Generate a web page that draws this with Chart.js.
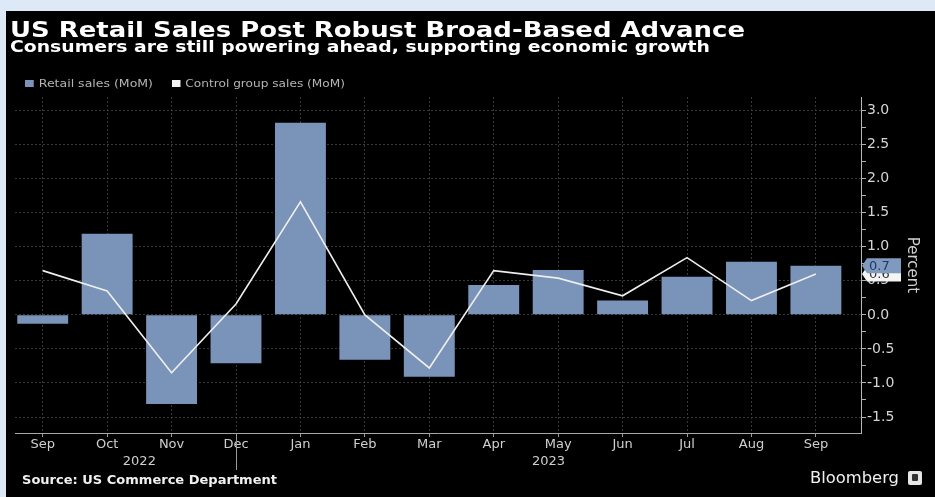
<!DOCTYPE html>
<html>
<head>
<meta charset="utf-8">
<script src="https://cdn.jsdelivr.net/npm/chart.js@4.4.1/dist/chart.umd.min.js"></script>
<style>
html, body { margin: 0; padding: 0; }
body { width: 935px; height: 497px; background: #dde9f6; position: relative; overflow: hidden; font-family: "DejaVu Sans", sans-serif; }
#panel { position: absolute; left: 6px; top: 11px; right: 0; bottom: 0; background: #000; }
#chart { position: absolute; left: 0; top: 0; }
.txt { position: absolute; white-space: nowrap; transform-origin: 0 50%; line-height: 1; }
#title { left: 10px; top: 19px; font-size: 22px; font-weight: bold; color: #fff; }
#subtitle { left: 10px; top: 40px; font-size: 15px; font-weight: bold; color: #fff; }
.leg { top: 79px; font-size: 10px; color: #b4b4b4; }
.sw { display: inline-block; width: 7px; height: 7px; margin-right: 4px; }
#source { left: 22px; top: 474px; font-size: 12px; font-weight: bold; color: #f0f0f0; }
#brand { left: 810px; top: 471px; font-size: 15px; color: #f0f0f0; }
#logo { position: absolute; left: 908px; top: 471px; width: 14px; height: 14px; background: #e6e6e6; border-radius: 2px; }
#logo i { position: absolute; left: 4px; top: 3px; width: 6px; height: 7px; background: #333; border-radius: 1px; }
</style>
</head>
<body>
<div id="panel"></div>
<canvas id="chart" width="935" height="497"></canvas>
<div class="txt" id="title" data-w="735">US Retail Sales Post Robust Broad-Based Advance</div>
<div class="txt" id="subtitle" data-w="700">Consumers are still powering ahead, supporting economic growth</div>
<div class="txt leg" id="leg1" style="left:25px" data-w="128"><span class="sw" style="background:#7a93b8"></span>Retail sales (MoM)</div>
<div class="txt leg" id="leg2" style="left:172px" data-w="173"><span class="sw" style="background:#f2f2f2"></span>Control group sales (MoM)</div>
<div class="txt" id="source" data-w="255">Source: US Commerce Department</div>
<div class="txt" id="brand" data-w="89">Bloomberg</div>
<div id="logo"><i></i></div>

<script>
// month-over-month % change, Sep 2022 .. Sep 2023
var months = ['Sep', 'Oct', 'Nov', 'Dec', 'Jan', 'Feb', 'Mar', 'Apr', 'May', 'Jun', 'Jul', 'Aug', 'Sep'];
var years = ['2022', '2023'];
var retailSales = [-0.13, 1.19, -1.31, -0.71, 2.82, -0.66, -0.91, 0.44, 0.66, 0.21, 0.56, 0.78, 0.72];
var controlGroup = [0.65, 0.35, -0.85, 0.16, 1.66, 0.0, -0.78, 0.65, 0.54, 0.28, 0.84, 0.21, 0.6];
var percentTicks = ['-1.5', '-1.0', '-0.5', '0.0', '0.5', '1.0', '1.5', '2.0', '2.5', '3.0'];

var barColor = '#7a93b8';
var lineColor = '#eeeeee';

// squeeze / stretch html text to the width seen in the picture
function fitText() {
	var els = document.querySelectorAll('[data-w]');
	for (var i = 0; i < els.length; i++) {
		var w = els[i].getBoundingClientRect().width;
		els[i].style.transform = 'scaleX(' + (+els[i].getAttribute('data-w') / w) + ')';
	}
}
fitText();

function points(arr) {
	return arr.map(function (v, i) { return { x: i, y: v }; });
}

function isHalf(v) {
	return Math.abs(v * 2 - Math.round(v * 2)) < 1e-6;
}

function drawTag(c, x0, yc, fill, textColor, text) {
	c.save();
	c.beginPath();
	c.moveTo(x0 + 1, yc);
	c.lineTo(x0 + 6, yc - 7.5);
	c.lineTo(x0 + 40, yc - 7.5);
	c.lineTo(x0 + 40, yc + 7.5);
	c.lineTo(x0 + 6, yc + 7.5);
	c.closePath();
	c.fillStyle = fill;
	c.fill();
	c.fillStyle = textColor;
	c.font = '13px "DejaVu Sans"';
	c.textBaseline = 'middle';
	c.fillText(text, x0 + 8, yc + 0.5);
	c.restore();
}

// last-value tags on the right axis + the year divider under Dec
var extras = {
	id: 'extras',
	afterDraw: function (chart) {
		var c = chart.ctx, area = chart.chartArea;
		var xs = chart.scales.x, ys = chart.scales.y;

		var xd = Math.round(xs.getPixelForValue(3)) + 0.5;
		c.save();
		c.strokeStyle = '#9a9a9a';
		c.lineWidth = 1;
		c.beginPath();
		c.moveTo(xd, area.bottom);
		c.lineTo(xd, area.bottom + 37);
		c.stroke();
		c.restore();

		var lc = controlGroup[controlGroup.length - 1];
		var lr = retailSales[retailSales.length - 1];
		drawTag(c, area.right, ys.getPixelForValue(lc), '#f4f4f4', '#333', lc.toFixed(1));
		drawTag(c, area.right, ys.getPixelForValue(lr), '#7f99bf', '#1d3b6a', lr.toFixed(1));
	}
};

Chart.defaults.font.family = '"DejaVu Sans", sans-serif';

var ctx = document.getElementById('chart').getContext('2d');
new Chart(ctx, {
	type: 'bar',
	data: {
		datasets: [{
			type: 'line',
			label: 'Control group sales (MoM)',
			data: points(controlGroup),
			borderColor: lineColor,
			borderWidth: 1.6,
			pointRadius: 0,
			order: 0
		}, {
			label: 'Retail sales (MoM)',
			data: points(retailSales),
			backgroundColor: barColor,
			categoryPercentage: 1,
			barPercentage: 0.79,
			order: 1
		}]
	},
	options: {
		responsive: false,
		animation: false,
		devicePixelRatio: 1,
		layout: { padding: { left: 15, top: 97, right: 0, bottom: 24 } },
		plugins: { legend: { display: false }, tooltip: { enabled: false } },
		scales: {
			x: {
				type: 'linear', position: 'bottom', weight: 0,
				min: -0.43, max: 12.7, offset: false,
				afterBuildTicks: function (s) {
					s.ticks = months.map(function (m, i) { return { value: i }; });
				},
				afterFit: function (s) { s.height = 20; },
				ticks: {
					callback: function (v, i) { return months[i]; },
					color: '#cfcfcf', font: { size: 13 }, padding: 0,
					autoSkip: false, maxRotation: 0
				},
				grid: { color: '#383838', offset: false, tickLength: 4, tickColor: '#999' },
				border: { color: '#a8a8a8', dash: [2, 2] }
			},
			x2: {
				type: 'linear', position: 'bottom', weight: 1,
				min: -0.43, max: 12.7, offset: false,
				afterBuildTicks: function (s) {
					s.ticks = [{ value: 1.5 }, { value: 7.85 }];
				},
				afterFit: function (s) { s.height = 20; },
				ticks: {
					callback: function (v, i) { return years[i]; },
					color: '#cfcfcf', font: { size: 13 }, padding: 1,
					autoSkip: false, maxRotation: 0
				},
				grid: { display: false, drawTicks: false },
				border: { display: false }
			},
			y: {
				position: 'right',
				min: -1.735, max: 3.2,
				afterBuildTicks: function (s) {
					var t = [];
					percentTicks.forEach(function (lbl, i) {
						t.push({ value: +lbl });
						if (i < percentTicks.length - 1) t.push({ value: +lbl + 0.25 });
					});
					s.ticks = t;
				},
				afterFit: function (s) { s.width = 74; },
				ticks: {
					callback: function (v) { return isHalf(v) ? v.toFixed(1) : ''; },
					color: '#d4d4d4', font: { size: 14 }, padding: 1, autoSkip: false
				},
				grid: {
					color: function (c) { return c.tick && isHalf(c.tick.value) ? '#383838' : 'transparent'; },
					tickLength: 5, tickColor: '#b0b0b0'
				},
				border: { color: '#b8b8b8', dash: [2, 2] },
				title: {
					display: true, text: 'Percent', color: '#d0d0d0',
					font: { size: 15 }, padding: { top: 14, bottom: 0 }
				}
			}
		}
	},
	plugins: [extras]
});
</script>
</body>
</html>
